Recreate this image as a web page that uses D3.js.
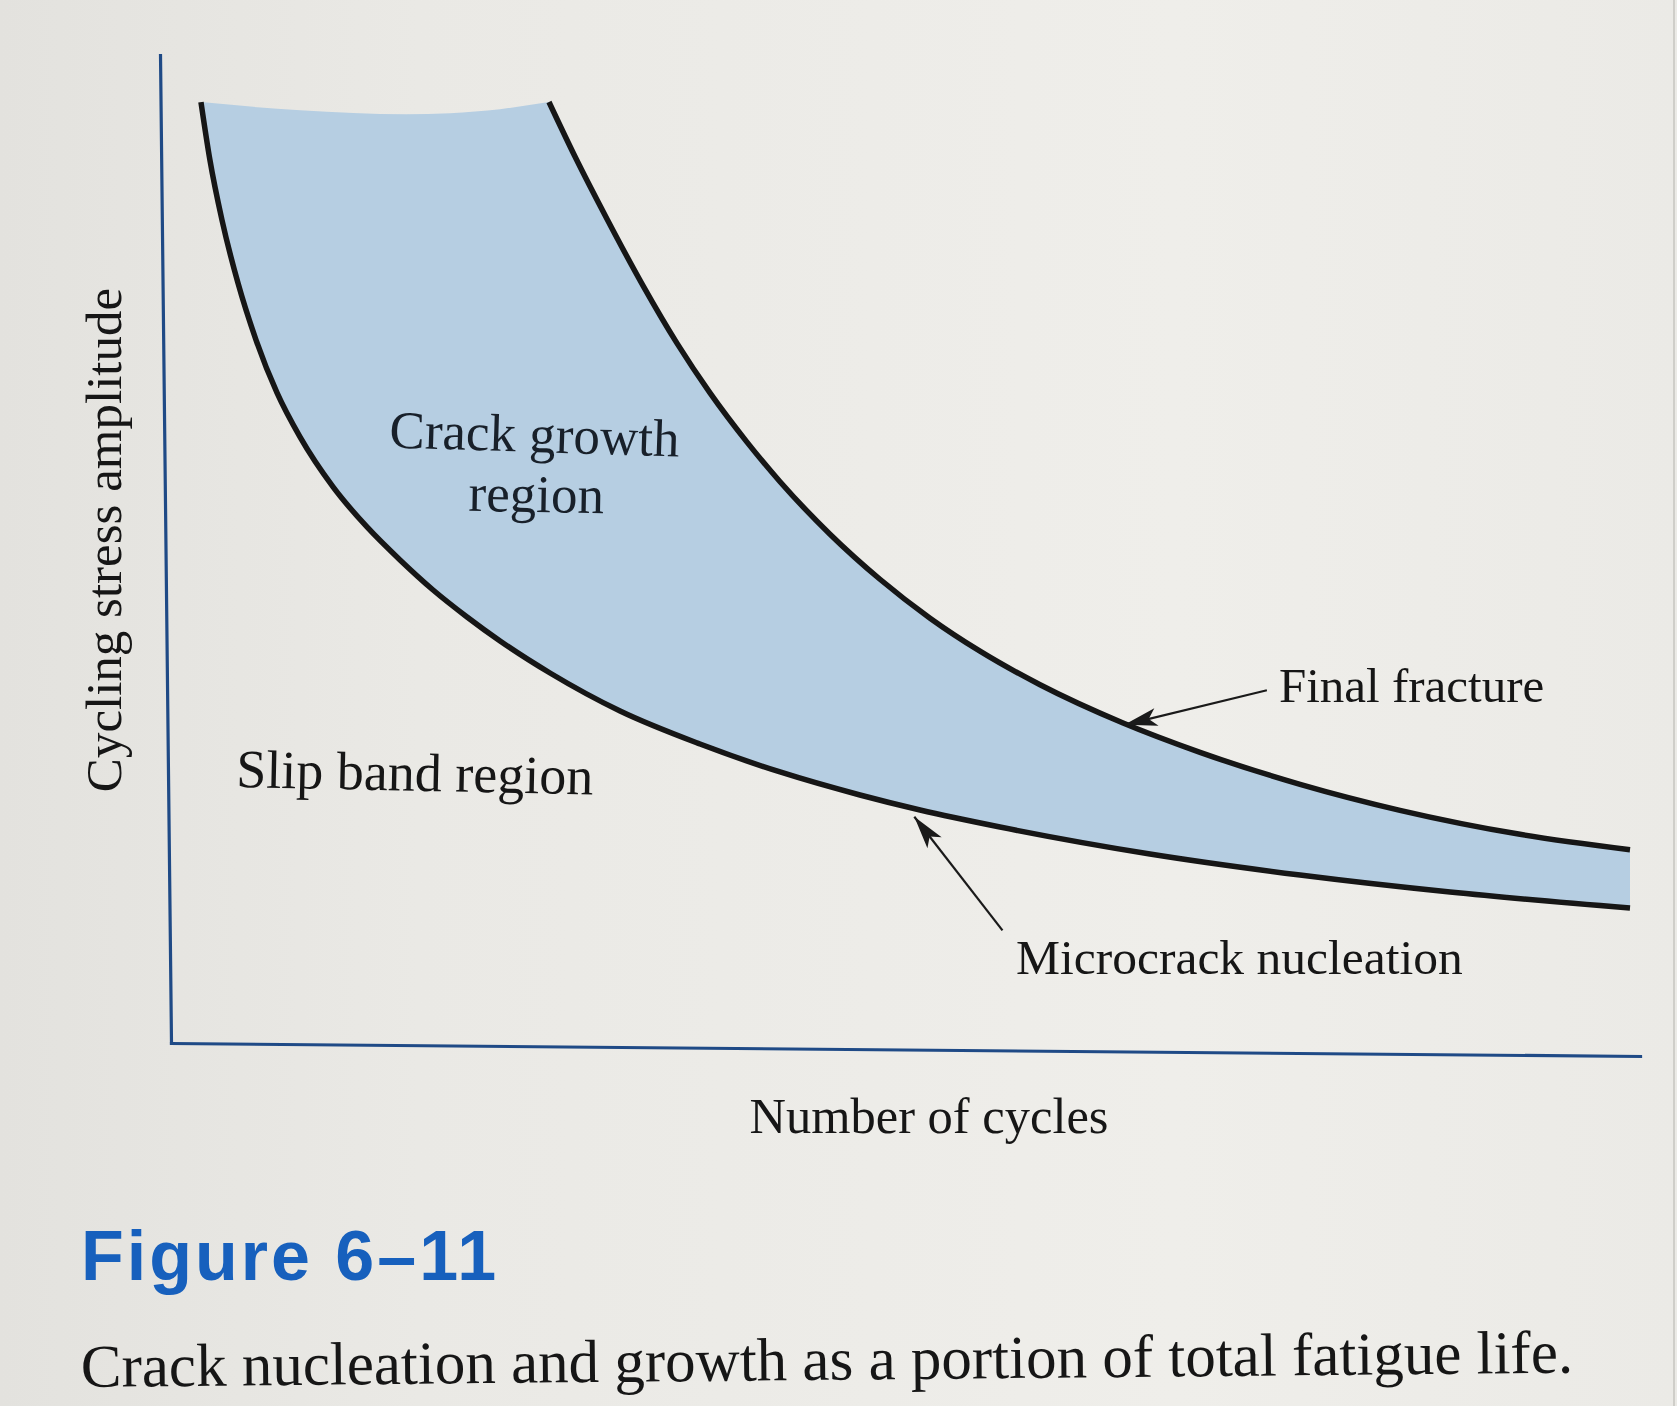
<!DOCTYPE html>
<html>
<head>
<meta charset="utf-8">
<script src="https://cdn.jsdelivr.net/npm/d3@7"></script>
<style>
  html, body { margin: 0; padding: 0; background: #ecebe7; }
  svg { display: block; }
</style>
</head>
<body>
<svg id="chart" width="1677" height="1406"></svg>
<script>
// ---------------- DATA (arbitrary units 0-100) ----------------
// Lower boundary: microcrack nucleation curve
const nucleationCycles = [2.04, 2.65, 3.47, 4.56, 5.79, 7.22, 8.78, 11.03, 13.34, 15.59, 17.84, 20.15, 22.40, 25.80, 30.57, 36.01, 41.46, 46.90, 50.99, 56.43, 66.64, 76.86, 87.07, 99.32];
const nucleationStress = [95.24, 89.37, 83.30, 76.92, 71.15, 65.79, 61.34, 56.28, 52.23, 48.89, 45.85, 43.12, 40.69, 37.45, 33.60, 30.26, 27.43, 25.10, 23.58, 21.86, 19.13, 17.00, 15.28, 13.66];
// Upper boundary: final fracture curve
const fractureCycles = [25.73, 27.50, 29.68, 32.13, 34.45, 36.69, 39.21, 41.46, 44.86, 48.26, 51.67, 55.07, 59.16, 64.81, 70.05, 76.86, 83.66, 91.83, 99.32];
const fractureStress = [95.24, 89.72, 83.40, 76.66, 70.81, 65.80, 60.82, 56.81, 51.50, 46.94, 43.00, 39.66, 36.26, 32.39, 29.42, 26.18, 23.55, 21.12, 19.56];
// Torn top edge of the shaded band
const topEdgeCycles = [2.04, 8.8, 16.0, 19.0, 22.4, 25.73];
const topEdgeStress = [95.24, 94.4, 94.0, 94.1, 94.5, 95.24];

// Texts
const xAxisTitle = "Number of cycles";
const yAxisTitle = "Cycling stress amplitude";
const bandLabel = ["Crack growth", "region"];
const slipLabel = "Slip band region";
const fractureLabel = "Final fracture";
const nucleationLabel = "Microcrack nucleation";
const figureNumber = "Figure 6\u201311";
const figureCaption = "Crack nucleation and growth as a portion of total fatigue life.";

// Arrow annotations (data units): tail -> tip
const fractureArrowCycles = [74.6, 64.9];
const fractureArrowStress = [35.7, 32.2];
const nucleationArrowCycles = [56.6, 50.6];
const nucleationArrowStress = [11.4, 22.9];

// ---------------- LAYOUT ----------------
const W = 1677, H = 1406;
const origin = { x: 171, y: 1043 };
const x = d3.scaleLinear().domain([0, 100]).range([origin.x, 1640]);
const y = d3.scaleLinear().domain([0, 100]).range([origin.y, 55]);

const svg = d3.select("#chart");
const defs = svg.append("defs");

// paper background
const grad = defs.append("linearGradient").attr("id", "paper").attr("x1", "0").attr("x2", "1").attr("y1", "0").attr("y2", "0");
grad.append("stop").attr("offset", "0").attr("stop-color", "#e3e2de");
grad.append("stop").attr("offset", "0.25").attr("stop-color", "#eae9e5");
grad.append("stop").attr("offset", "0.7").attr("stop-color", "#efeeea");
grad.append("stop").attr("offset", "1").attr("stop-color", "#ebeae6");
svg.append("rect").attr("width", W).attr("height", H).attr("fill", "url(#paper)");
svg.append("line").attr("x1", 1674).attr("x2", 1674).attr("y1", 0).attr("y2", H)
  .attr("stroke", "#cfcec9").attr("stroke-width", 2);

// arrowhead marker
defs.append("marker").attr("id", "head")
  .attr("markerUnits", "userSpaceOnUse")
  .attr("viewBox", "-34 -12 38 24")
  .attr("refX", 0).attr("refY", 0)
  .attr("markerWidth", 38).attr("markerHeight", 24)
  .attr("orient", "auto")
  .append("path").attr("d", "M0,0 L-33,-9 L-25,0 L-33,9 Z").attr("fill", "#1a1a1a");

// ---------------- AXES (photo is slightly sheared) ----------------
const axesG = svg.append("g")
  .attr("transform", `translate(${origin.x},${origin.y}) matrix(1,0.00885,0.01113,1,0,0) translate(${-origin.x},${-origin.y})`);
axesG.append("g").attr("transform", `translate(${origin.x},0)`)
  .call(d3.axisLeft(y).tickValues([]).tickSizeOuter(0));
axesG.append("g").attr("transform", `translate(0,${origin.y})`)
  .call(d3.axisBottom(x).tickValues([]).tickSizeOuter(0));
axesG.selectAll(".domain").attr("stroke", "#1f4a86").attr("stroke-width", 3.2).attr("stroke-linecap", "square");

// ---------------- BAND + CURVES ----------------
const zip = (a, b) => a.map((v, i) => [v, b[i]]);
const lower = zip(nucleationCycles, nucleationStress);
const upper = zip(fractureCycles, fractureStress);
const topEdge = zip(topEdgeCycles, topEdgeStress);

const lineGen = d3.line().x(d => x(d[0])).y(d => y(d[1])).curve(d3.curveMonotoneX);
const upperRev = upper.slice().reverse();
const topRev = topEdge.slice().reverse().slice(1);
const bandPath = lineGen(lower) + lineGen(upperRev).replace(/^M/, "L") + lineGen(topRev).replace(/^M/, "L") + "Z";

svg.append("path").attr("d", bandPath).attr("fill", "#b6cee2").attr("stroke", "none");

svg.append("path").attr("d", lineGen(lower)).attr("fill", "none")
  .attr("stroke", "#161616").attr("stroke-width", 5.5).attr("stroke-linecap", "butt");
svg.append("path").attr("d", lineGen(upper)).attr("fill", "none")
  .attr("stroke", "#161616").attr("stroke-width", 5.5).attr("stroke-linecap", "butt");

// ---------------- ARROWS ----------------
function arrow(cx, cy) {
  svg.append("line")
    .attr("x1", x(cx[0])).attr("y1", y(cy[0]))
    .attr("x2", x(cx[1])).attr("y2", y(cy[1]))
    .attr("stroke", "#1a1a1a").attr("stroke-width", 2.2)
    .attr("marker-end", "url(#head)");
}
arrow(fractureArrowCycles, fractureArrowStress);
arrow(nucleationArrowCycles, nucleationArrowStress);

// ---------------- TEXT ----------------
const serif = "'Liberation Serif', 'Times New Roman', serif";
function label(txt, px, py, size, anchor, fill, rot) {
  return svg.append("text")
    .attr("transform", `translate(${px},${py}) rotate(${rot || 0})`)
    .attr("font-family", serif).attr("font-size", size)
    .attr("text-anchor", anchor || "start").attr("fill", fill || "#161616")
    .text(txt);
}
label(bandLabel[0], 534, 452, 53, "middle", "#18202a", 1.8);
label(bandLabel[1], 536, 512, 53, "middle", "#18202a", 1.0);
label(slipLabel, 236, 787, 54, "start", "#161616", 1.2);
label(fractureLabel, 1279, 702, 49, "start");
label(nucleationLabel, 1016, 974, 49.5, "start");
label(xAxisTitle, 929, 1133, 50.5, "middle");

svg.append("text")
  .attr("transform", `translate(121,540) rotate(-90)`)
  .attr("font-family", serif).attr("font-size", 51)
  .attr("text-anchor", "middle").attr("fill", "#161616")
  .text(yAxisTitle);

svg.append("text").attr("x", 81).attr("y", 1280)
  .attr("font-family", "'Liberation Sans', Arial, sans-serif").attr("font-weight", "bold")
  .attr("font-size", 70).attr("letter-spacing", 3).attr("fill", "#1760bd")
  .text(figureNumber);

svg.append("text")
  .attr("transform", "translate(81,1387) rotate(-0.55)")
  .attr("font-family", serif).attr("font-size", 61).attr("fill", "#161616")
  .text(figureCaption);
</script>
</body>
</html>
